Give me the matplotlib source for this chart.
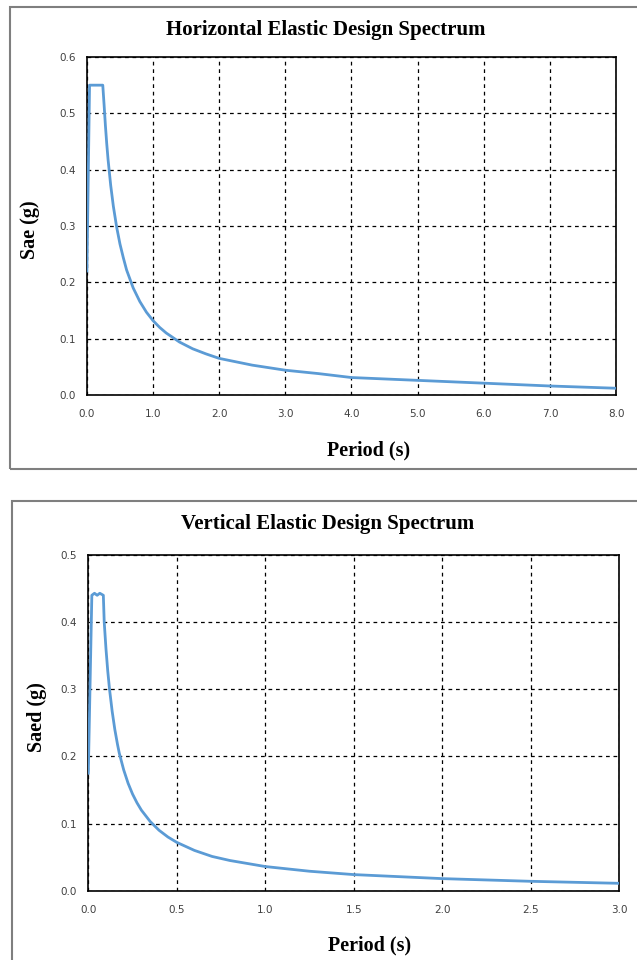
import matplotlib
matplotlib.use("Agg")
import matplotlib.pyplot as plt
from matplotlib.patches import Rectangle
from matplotlib.ticker import FormatStrFormatter

# horizontal spectrum, values
period_h = [0.0, 0.04, 0.24, 0.26, 0.28, 0.30, 0.32, 0.36, 0.40, 0.45, 0.50, 0.55,
            0.60, 0.65, 0.70, 0.75, 0.80, 0.90, 1.0, 1.1, 1.2, 1.3, 1.4, 1.6, 1.8,
            2.0, 2.5, 3.0, 3.5, 4.0, 5.0, 6.0, 7.0, 8.0]
sae_h = [0.22, 0.55, 0.55, 0.515, 0.478, 0.446, 0.418, 0.372, 0.335, 0.298, 0.268,
         0.244, 0.222, 0.206, 0.19, 0.178, 0.166, 0.147, 0.132, 0.12, 0.11, 0.102,
         0.094, 0.082, 0.073, 0.065, 0.053, 0.044, 0.038, 0.031, 0.026, 0.021,
         0.016, 0.012]

# vertical spectrum
period_v = [0.0, 0.02, 0.035, 0.05, 0.065, 0.085, 0.09, 0.095, 0.10, 0.11, 0.12,
            0.135, 0.15, 0.165, 0.175, 0.19, 0.20, 0.225, 0.25, 0.275, 0.30, 0.35,
            0.40, 0.45, 0.50, 0.60, 0.70, 0.80, 1.0, 1.25, 1.5, 2.0, 2.5, 3.0]
saed_v = [0.175, 0.44, 0.443, 0.44, 0.443, 0.44, 0.40, 0.38, 0.36, 0.327, 0.30,
          0.267, 0.24, 0.218, 0.205, 0.19, 0.18, 0.16, 0.144, 0.131, 0.12, 0.103,
          0.09, 0.08, 0.072, 0.06, 0.051, 0.045, 0.036, 0.029, 0.024, 0.018,
          0.014, 0.011]

xticks_h = [0, 1, 2, 3, 4, 5, 6, 7, 8]
yticks_h = [0.0, 0.1, 0.2, 0.3, 0.4, 0.5, 0.6]
xticks_v = [0.0, 0.5, 1.0, 1.5, 2.0, 2.5, 3.0]
yticks_v = [0.0, 0.1, 0.2, 0.3, 0.4, 0.5]

W, H = 637, 960
fig = plt.figure(figsize=(W / 100, H / 100), dpi=100)

serif = ["Liberation Serif", "DejaVu Serif"]
line_col = "#5b9bd5"


def frame(x0, y0, x1, y1):
    fig.add_artist(Rectangle((x0 / W, 1 - y1 / H), (x1 - x0) / W, (y1 - y0) / H,
                             transform=fig.transFigure, fill=False,
                             edgecolor="#7f7f7f", lw=1.5, clip_on=False))


def panel(rect, x, y, xt, yt, xmax, ymax):
    ax = fig.add_axes(rect)
    ax.plot(x, y, color=line_col, lw=2, zorder=3)
    ax.set_xlim(0, xmax)
    ax.set_ylim(0, ymax)
    ax.set_xticks(xt)
    ax.set_yticks(yt)
    ax.xaxis.set_major_formatter(FormatStrFormatter("%.1f"))
    ax.yaxis.set_major_formatter(FormatStrFormatter("%.1f"))
    ax.tick_params(length=0, labelsize=7.5, labelcolor="#404040")
    ax.tick_params(axis="x", pad=10)
    ax.tick_params(axis="y", pad=8)
    ax.grid(True, color="black", ls=(0, (3, 3)), lw=0.9)
    for s in ax.spines.values():
        s.set_color("black")
        s.set_linewidth(1.2)
    return ax


frame(9.5, 6.5, 660, 468.5)
frame(12, 501, 660, 990)

panel([86.9 / W, 1 - 395 / H, (616 - 86.9) / W, 338 / H],
      period_h, sae_h, xticks_h, yticks_h, 8, 0.6)
panel([88.3 / W, 1 - 890.7 / H, (619 - 88.3) / W, 335.7 / H],
      period_v, saed_v, xticks_v, yticks_v, 3, 0.5)

fig.text(326 / W, 1 - 30 / H, "Horizontal Elastic Design Spectrum", ha="center",
         va="center", family=serif, weight="bold", fontsize=15)
fig.text(369 / W, 1 - 450 / H, "Period (s)", ha="center", va="center",
         family=serif, weight="bold", fontsize=14.5)
fig.text(30 / W, 1 - 230 / H, "Sae (g)", ha="center", va="center", rotation=90,
         family=serif, weight="bold", fontsize=14.5)

fig.text(328 / W, 1 - 524 / H, "Vertical Elastic Design Spectrum", ha="center",
         va="center", family=serif, weight="bold", fontsize=15)
fig.text(370 / W, 1 - 945 / H, "Period (s)", ha="center", va="center",
         family=serif, weight="bold", fontsize=14.5)
fig.text(37 / W, 1 - 717 / H, "Saed (g)", ha="center", va="center", rotation=90,
         family=serif, weight="bold", fontsize=14.5)

fig.savefig("out.png", dpi=100, facecolor="white")
